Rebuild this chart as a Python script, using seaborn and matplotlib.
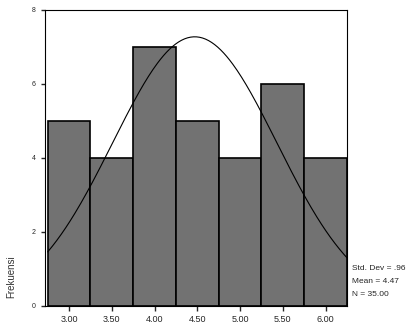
import numpy as np
import pandas as pd
import matplotlib
matplotlib.use("Agg")
import matplotlib.pyplot as plt
import seaborn as sns

bin_centers = [3.00, 3.50, 4.00, 4.50, 5.00, 5.50, 6.00]
counts = [5, 4, 7, 5, 4, 6, 4]
tick_labels = ["3.00", "3.50", "4.00", "4.50", "5.00", "5.50", "6.00"]
std_dev = 0.96
mean_val = 4.47
n_val = 35.00

sns.set_style("ticks")
plt.rcParams['font.family'] = ['Liberation Sans', 'DejaVu Sans']
plt.rcParams['xtick.major.size'] = 3.5
plt.rcParams['ytick.major.size'] = 3
plt.rcParams['xtick.major.width'] = 1.0
plt.rcParams['ytick.major.width'] = 1.0

fig = plt.figure(figsize=(4.14, 3.29), dpi=100)
ax = fig.add_axes([0.109, 0.070, 0.729, 0.900])

df = pd.DataFrame({"x": bin_centers, "w": counts})
sns.histplot(data=df, x="x", weights="w", binwidth=0.5, binrange=(2.75, 6.25),
             color="#727272", alpha=1.0, edgecolor="black", linewidth=1.2, ax=ax)

xs = np.linspace(2.75, 6.25, 200)
ys = n_val * 0.5 / (std_dev * np.sqrt(2 * np.pi)) * np.exp(-0.5 * ((xs - mean_val) / std_dev) ** 2)
sns.lineplot(x=xs, y=ys, color="black", linewidth=0.8, ax=ax)

ax.set_xlim(2.72, 6.25)
ax.set_ylim(0, 8)
ax.set_yticks([0, 2, 4, 6, 8])
ax.set_yticklabels(["0", "2", "4", "6", "8"], fontsize=5)
ax.set_xticks(bin_centers)
ax.set_xticklabels(tick_labels, fontsize=6.5)
ax.tick_params(axis='x', pad=3)
ax.tick_params(axis='y', pad=4)
ax.set_xlabel("")
ax.set_ylabel("")
for s in ax.spines.values():
    s.set_visible(True)
    s.set_color("black")
    s.set_linewidth(0.8)

fig.text(0.028, 0.16, "Frekuensi", rotation=90, fontsize=7, ha="center", va="center", color="#333333")
fig.text(0.851, 0.185, "Std. Dev = .96", fontsize=6, ha="left", va="center")
fig.text(0.851, 0.145, "Mean = 4.47", fontsize=6, ha="left", va="center")
fig.text(0.851, 0.105, "N = 35.00", fontsize=6, ha="left", va="center")

fig.savefig("out.png", dpi=100)
